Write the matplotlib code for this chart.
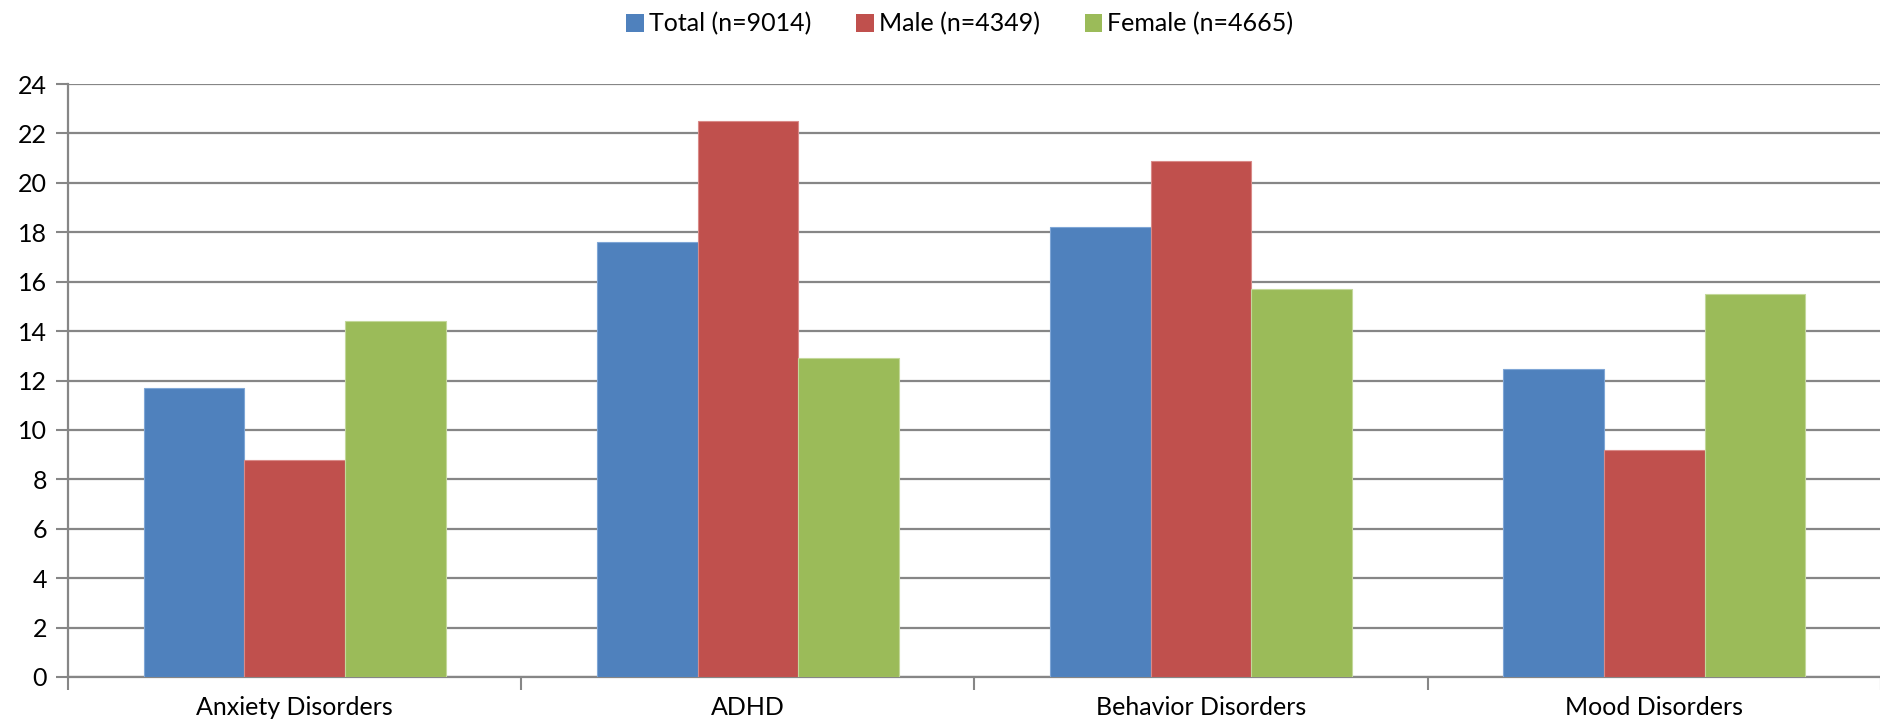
import numpy as np
import matplotlib.pyplot as plt
from matplotlib.patches import Patch

categories = ["Anxiety Disorders", "ADHD", "Behavior Disorders", "Mood Disorders"]
series_names = ["Total (n=9014)", "Male (n=4349)", "Female (n=4665)"]
total = [11.7, 17.6, 18.2, 12.45]
male = [8.8, 22.5, 20.9, 9.2]
female = [14.4, 12.9, 15.7, 15.5]
colors = ["#4F81BD", "#C0504D", "#9BBB59"]
edges = ["#7FA6D6", "#D98A88", "#C3D89A"]

plt.rcParams["font.family"] = ["Lato", "DejaVu Sans"]

W, H = 1881, 727
fig = plt.figure(figsize=(W / 100, H / 100), dpi=100)
ax = fig.add_axes([68 / W, (H - 677) / H, (W - 68) / W, (677 - 84) / H])

x = np.arange(len(categories))
bw = 1 / 4.5
for i, vals in enumerate([total, male, female]):
    ax.bar(x + (i - 1) * bw, vals, width=bw, color=colors[i],
           edgecolor=edges[i], linewidth=0.8, zorder=3)

ax.set_xlim(-0.5, len(categories) - 0.5)
ax.set_ylim(0, 24)
ax.set_yticks(range(0, 25, 2))
ax.set_xticks(x)
ax.set_xticklabels(categories)
ax.tick_params(axis="x", length=0, labelsize=18, pad=14)
ax.tick_params(axis="y", length=9, width=1.5, color="#868686", labelsize=18, pad=6)
ax.set_xticks(np.arange(-0.5, len(categories), 1), minor=True)
ax.tick_params(axis="x", which="minor", length=9, width=1.5, color="#868686")

ax.grid(axis="y", color="#868686", linewidth=1.6, zorder=0)
for side in ["top", "right"]:
    ax.spines[side].set_visible(False)
for side in ["left", "bottom"]:
    ax.spines[side].set_color("#868686")
    ax.spines[side].set_linewidth(1.6)

handles = [Patch(facecolor=c) for c in colors]
fig.legend(handles, series_names, loc="center", bbox_to_anchor=(960 / W, 1 - 24 / H),
           ncol=3, frameon=False, fontsize=18, handlelength=0.7, handleheight=0.7,
           handletextpad=0.2, columnspacing=1.8)

fig.savefig("out.png", dpi=100)
